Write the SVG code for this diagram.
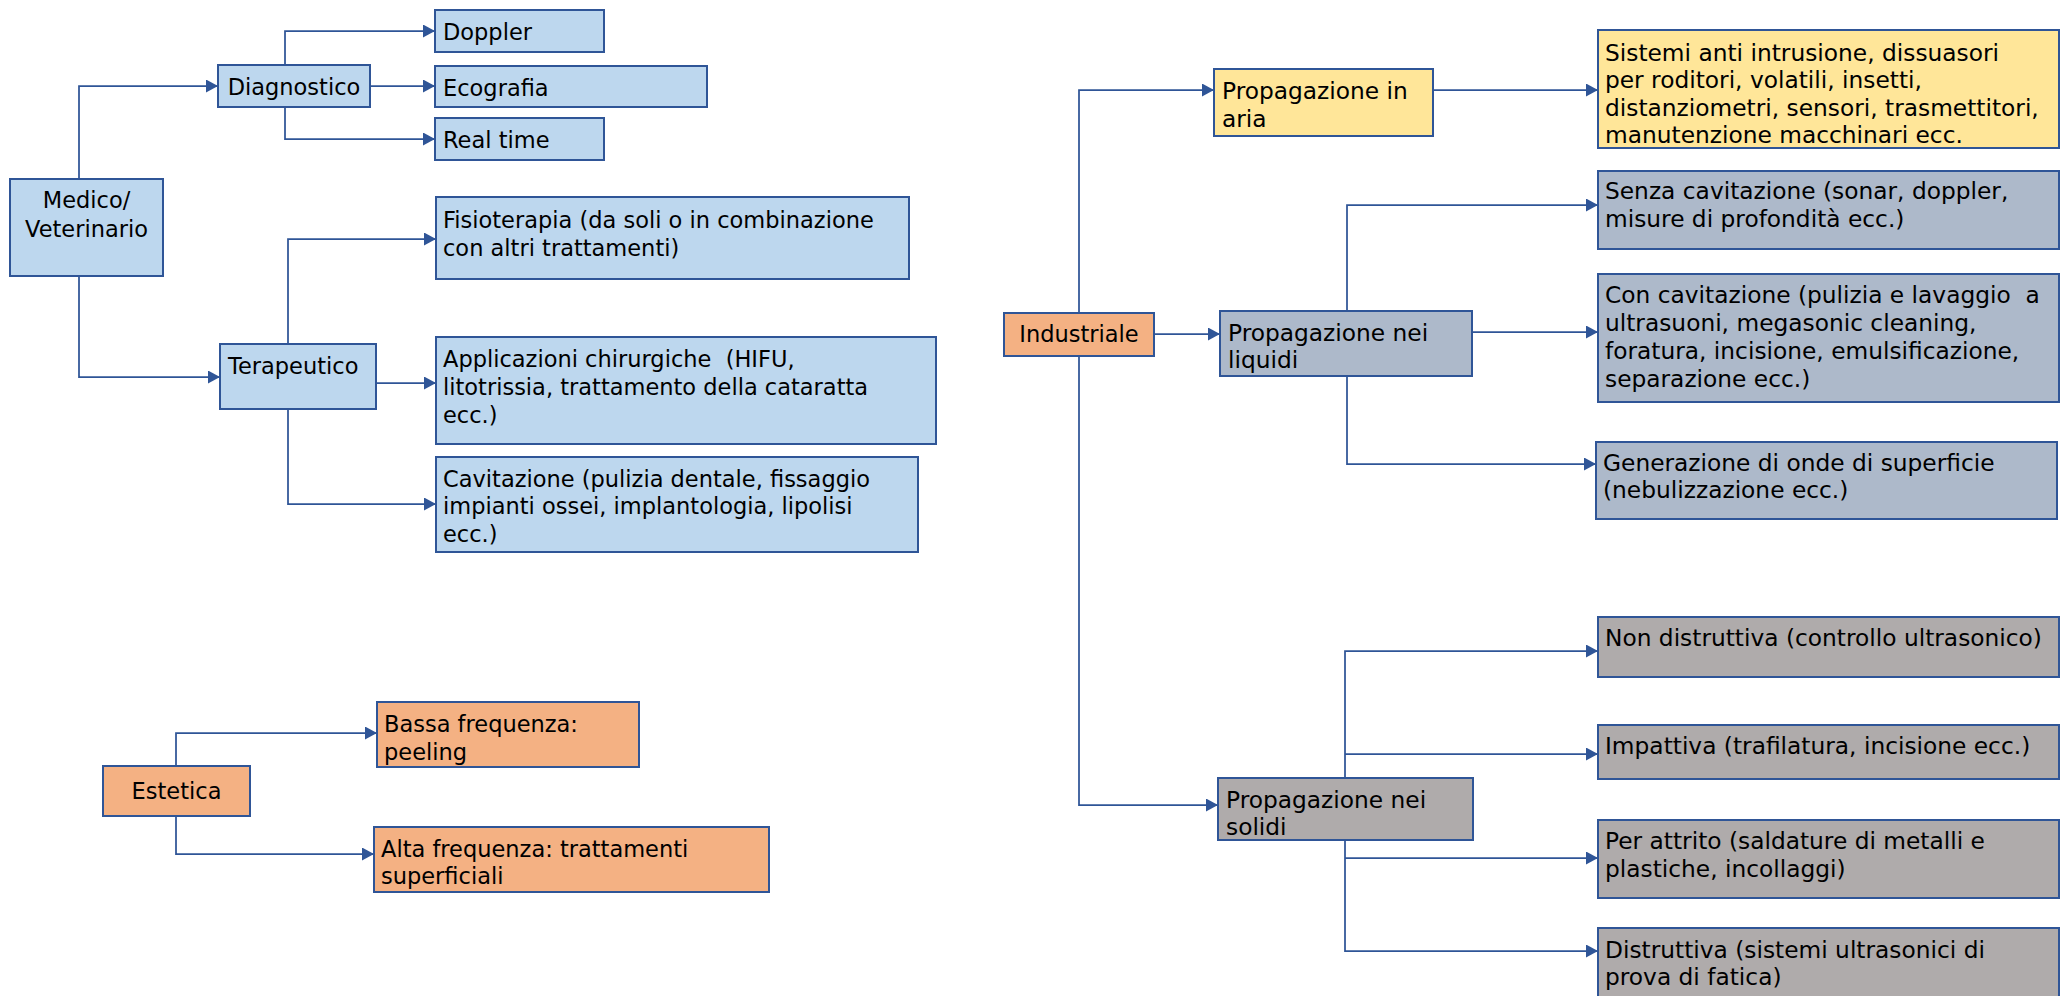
<svg xmlns="http://www.w3.org/2000/svg" width="2069" height="996" viewBox="0 0 2069 996">
<style>
.box{stroke:#2F5597;stroke-width:2}
.blue{fill:#BDD7EE}.orange{fill:#F4B183}.yellow{fill:#FFE699}.slate{fill:#ADB9CA}.gray{fill:#AFABAB}
text{font-family:"DejaVu Sans",Verdana,sans-serif;font-size:22.5px;fill:#000;white-space:pre}
.r text{font-size:23.3px}
.c{text-anchor:middle}
.conn{fill:none;stroke:#2F5597;stroke-width:1.75}
</style>
<defs>
<marker id="arr" markerUnits="userSpaceOnUse" markerWidth="13" markerHeight="13" refX="12" refY="6.5" orient="auto">
<path d="M0,0 L12,6.5 L0,13 z" fill="#2F5597"/>
</marker>
</defs>
<rect width="2069" height="996" fill="#fff"/>
<g id="connectors" class="conn" marker-end="url(#arr)">
<path d="M79,179 V86 H218"/>
<path d="M79,276 V377 H220"/>
<path d="M285,65 V31 H435"/>
<path d="M370,86 H435"/>
<path d="M285,107 V139 H435"/>
<path d="M288,344 V239 H436"/>
<path d="M376,383 H436"/>
<path d="M288,409 V504 H436"/>
<path d="M176,766 V733 H377"/>
<path d="M176,816 V854 H374"/>
<path d="M1079,313 V90 H1214"/>
<path d="M1154,334 H1220"/>
<path d="M1079,356 V805 H1218"/>
<path d="M1433,90 H1598"/>
<path d="M1347,311 V205 H1598"/>
<path d="M1472,332 H1598"/>
<path d="M1347,376 V464 H1596"/>
<path d="M1345,778 V651 H1598"/>
<path d="M1345,754 H1598"/>
<path d="M1345,840 V951 H1598"/>
<path d="M1345,858 H1598"/>
</g>
<g id="doppler"><rect class="box blue" x="435" y="10" width="169" height="42"/><text x="443" y="40">Doppler</text></g>
<g id="ecografia"><rect class="box blue" x="435" y="66" width="272" height="41"/><text x="443" y="96">Ecografia</text></g>
<g id="realtime"><rect class="box blue" x="435" y="118" width="169" height="42"/><text x="443" y="148">Real time</text></g>
<g id="diagnostico"><rect class="box blue" x="218" y="65" width="152" height="42"/><text class="c" x="294" y="95">Diagnostico</text></g>
<g id="medico"><rect class="box blue" x="10" y="179" width="153" height="97"/><text class="c" x="86.5" y="208">Medico/</text><text class="c" x="86.5" y="237">Veterinario</text></g>
<g id="terapeutico"><rect class="box blue" x="220" y="344" width="156" height="65"/><text x="228" y="374">Terapeutico</text></g>
<g id="fisioterapia"><rect class="box blue" x="436" y="197" width="473" height="82"/><text x="443" y="228">Fisioterapia (da soli o in combinazione</text><text x="443" y="256">con altri trattamenti)</text></g>
<g id="applicazioni"><rect class="box blue" x="436" y="337" width="500" height="107"/><text x="443" y="367">Applicazioni chirurgiche  (HIFU,</text><text x="443" y="395">litotrissia, trattamento della cataratta</text><text x="443" y="423">ecc.)</text></g>
<g id="cavitazione"><rect class="box blue" x="436" y="457" width="482" height="95"/><text x="443" y="487">Cavitazione (pulizia dentale, fissaggio</text><text x="443" y="514">impianti ossei, implantologia, lipolisi</text><text x="443" y="542">ecc.)</text></g>
<g id="estetica"><rect class="box orange" x="103" y="766" width="147" height="50"/><text class="c" x="176.5" y="799">Estetica</text></g>
<g id="bassa"><rect class="box orange" x="377" y="702" width="262" height="65"/><text x="384" y="732">Bassa frequenza:</text><text x="384" y="760">peeling</text></g>
<g id="alta"><rect class="box orange" x="374" y="827" width="395" height="65"/><text x="381" y="857">Alta frequenza: trattamenti</text><text x="381" y="884">superficiali</text></g>
<g id="industriale"><rect class="box orange" x="1004" y="313" width="150" height="43"/><text class="c" x="1079" y="342">Industriale</text></g>
<g class="r">
<g id="aria"><rect class="box yellow" x="1214" y="69" width="219" height="67"/><text x="1222" y="99">Propagazione in</text><text x="1222" y="127">aria</text></g>
<g id="sistemi"><rect class="box yellow" x="1598" y="30" width="461" height="118"/><text x="1605" y="61">Sistemi anti intrusione, dissuasori</text><text x="1605" y="88">per roditori, volatili, insetti,</text><text x="1605" y="116">distanziometri, sensori, trasmettitori,</text><text x="1605" y="143">manutenzione macchinari ecc.</text></g>
<g id="liquidi"><rect class="box slate" x="1220" y="311" width="252" height="65"/><text x="1228" y="341">Propagazione nei</text><text x="1228" y="368">liquidi</text></g>
<g id="senza"><rect class="box slate" x="1598" y="171" width="461" height="78"/><text x="1605" y="199">Senza cavitazione (sonar, doppler,</text><text x="1605" y="227">misure di profondità ecc.)</text></g>
<g id="con"><rect class="box slate" x="1598" y="274" width="461" height="128"/><text x="1605" y="303">Con cavitazione (pulizia e lavaggio  a</text><text x="1605" y="331">ultrasuoni, megasonic cleaning,</text><text x="1605" y="359">foratura, incisione, emulsificazione,</text><text x="1605" y="387">separazione ecc.)</text></g>
<g id="generazione"><rect class="box slate" x="1596" y="442" width="461" height="77"/><text x="1603" y="471">Generazione di onde di superficie</text><text x="1603" y="498">(nebulizzazione ecc.)</text></g>
<g id="solidi"><rect class="box gray" x="1218" y="778" width="255" height="62"/><text x="1226" y="808">Propagazione nei</text><text x="1226" y="835">solidi</text></g>
<g id="nondistruttiva"><rect class="box gray" x="1598" y="617" width="461" height="60"/><text x="1605" y="646">Non distruttiva (controllo ultrasonico)</text></g>
<g id="impattiva"><rect class="box gray" x="1598" y="725" width="461" height="54"/><text x="1605" y="754">Impattiva (trafilatura, incisione ecc.)</text></g>
<g id="attrito"><rect class="box gray" x="1598" y="820" width="461" height="78"/><text x="1605" y="849">Per attrito (saldature di metalli e</text><text x="1605" y="877">plastiche, incollaggi)</text></g>
<g id="distruttiva"><rect class="box gray" x="1598" y="928" width="461" height="80"/><text x="1605" y="958">Distruttiva (sistemi ultrasonici di</text><text x="1605" y="985">prova di fatica)</text></g>
</g>
</svg>
